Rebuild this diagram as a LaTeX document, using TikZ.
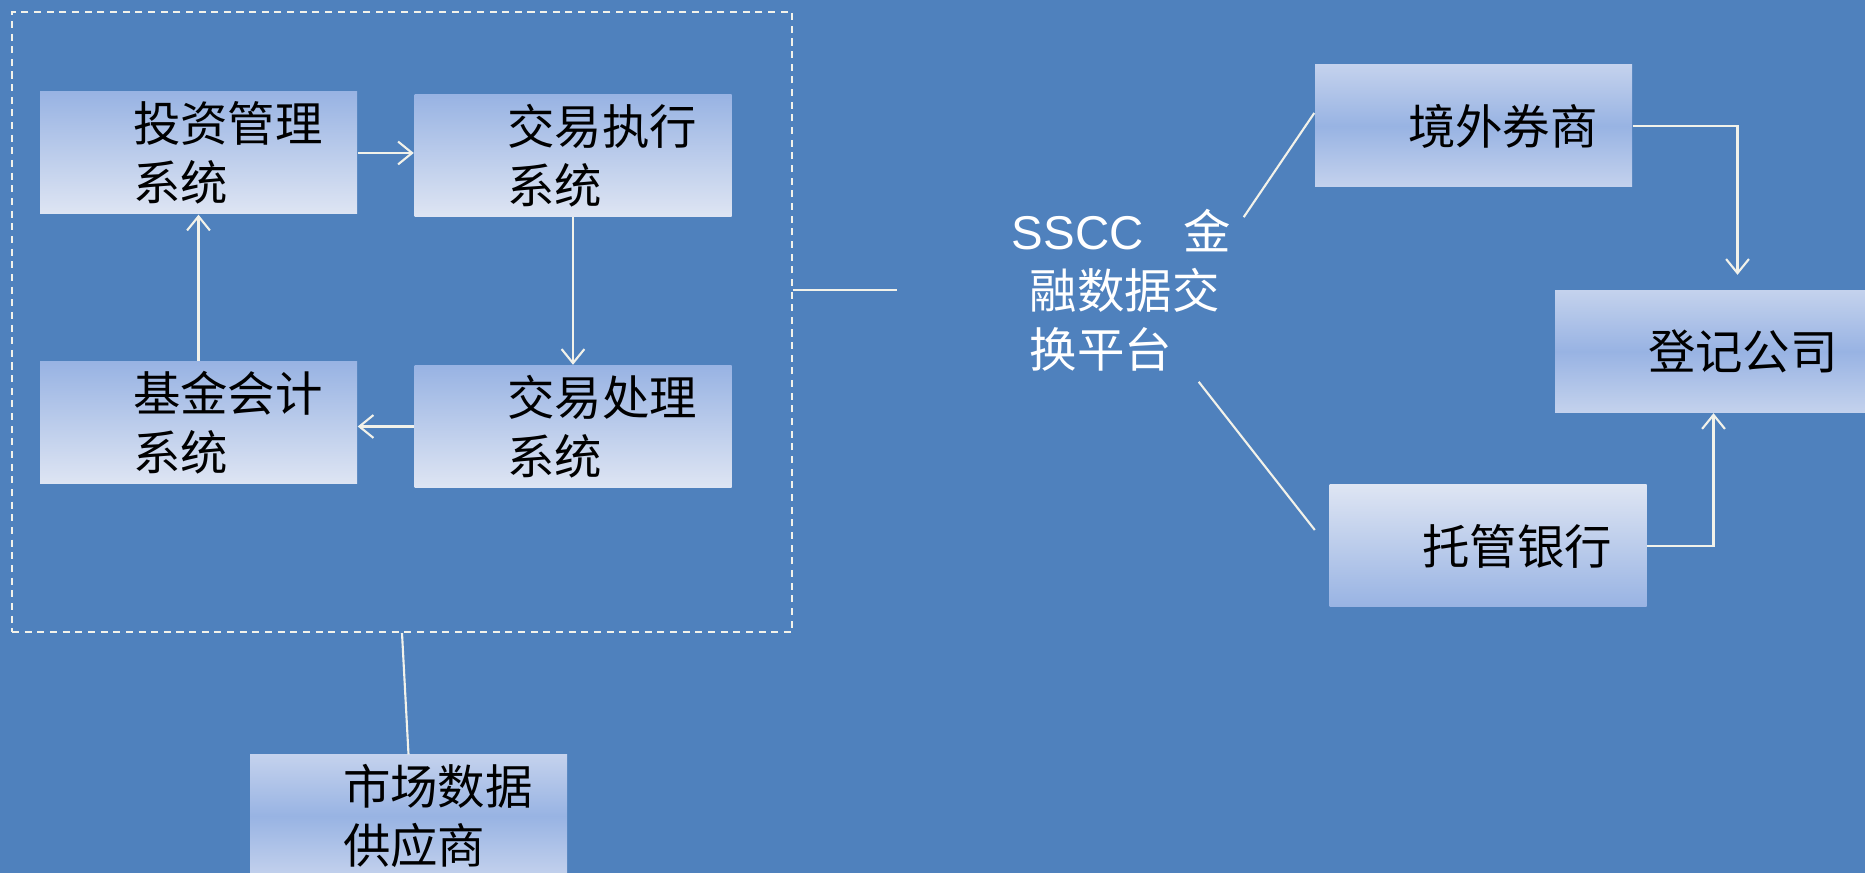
\documentclass[tikz,border=0pt]{standalone}
\usepackage{fontspec}
\newfontfamily\cjk{Noto Sans CJK SC}
\newfontfamily\lat{Liberation Sans}
\usetikzlibrary{positioning,arrows.meta}
\definecolor{bg}{RGB}{79,129,189}
\definecolor{wline}{RGB}{242,242,234}
\definecolor{bxa}{RGB}{152,179,227}
\definecolor{bxb}{RGB}{222,229,243}
\definecolor{bxc}{RGB}{196,210,237}
\begin{document}
\begin{tikzpicture}[
 bx/.style={minimum width=3.17cm,minimum height=1.22cm,inner sep=0pt},
 bx1/.style={bx,top color=bxa,bottom color=bxb},
 bx2/.style={bx,top color=bxc,bottom color=bxc,middle color=bxa},
 bx3/.style={bx,top color=bxb,bottom color=bxa},
 tx/.style={inner sep=0pt,align=left,font=\cjk\fontsize{13.5}{16.8}\selectfont},
 ln/.style={draw=wline,line width=0.6pt},
 arr/.style={ln,-{Straight Barb[length=4pt,width=6.5pt]}},
 ]
 \useasboundingbox (0,0) rectangle (18.65,-8.73);
 \fill[bg] (0,0) rectangle (18.65,-8.73);

 % Rahmen
 \node[ln,dash pattern=on 2pt off 1.6pt,minimum width=7.8cm,minimum height=6.2cm,inner sep=0pt] (inst) at (4.02,-3.22) {};

 \node[bx1] (ims)  at (1.985,-1.53)  {};
 \node[bx1] (exec) at (5.73,-1.555)  {};
 \node[bx1] (acct) at (1.985,-4.23)  {};
 \node[bx1] (proc) at (5.73,-4.265)  {};
 \node[tx,right=0.93cm of ims.west]  (ims-t)  {投资管理\\系统};
 \node[tx,right=0.93cm of exec.west] (exec-t) {交易执行\\系统};
 \node[tx,right=0.93cm of acct.west] (acct-t) {基金会计\\系统};
 \node[tx,right=0.93cm of proc.west] (proc-t) {交易处理\\系统};

 \node[bx2] (broker) at (14.735,-1.26) {};
 \node[bx2] (reg)    at (17.135,-3.515) {};
 \node[bx3] (bank)   at (14.88,-5.46)  {};
 \node[bx2] (market) at (4.085,-8.16)  {};
 \node[tx,right=0.93cm of broker.west] (broker-t) {境外券商};
 \node[tx,right=0.93cm of reg.west]    (reg-t)    {登记公司};
 \node[tx,right=0.93cm of bank.west]   (bank-t)   {托管银行};
 \node[tx,right=0.93cm of market.west] (market-t) {市场数据\\供应商};

 \node[tx,text=white,anchor=west] (sscc) at (10.29,-2.90)
  {\hspace*{-0.18cm}{\lat SSCC}\hspace{0.40cm}金\\融数据交\\换平台};

 % Verbindungen
 \draw[arr] (ims.east) -- (ims.east -| exec.west);
 \draw[arr] (exec.south) -- (proc.north);
 \draw[arr] (proc.west) -- (proc.west -| acct.east);
 \draw[arr] (acct.north) -- (ims.south);

 \coordinate (gap) at (8.97,-2.90);
 \draw[ln] (inst.east |- gap) -- (gap);
 \draw[ln] (inst.south) -- (market.north);

 \draw[ln] ([shift={(0.12,-0.09)}]sscc.north east) -- ([yshift=0.13cm]broker.west);
 \draw[ln] ([shift={(-0.33,-0.10)}]sscc.south east) -- ([shift={(-0.14,0.16)}]bank.west);

 \draw[arr] (broker.east) -| ([xshift=0.24cm,yshift=0.15cm]reg.north);
 \draw[arr] (bank.east) -| (reg.south);
\end{tikzpicture}
\end{document}
